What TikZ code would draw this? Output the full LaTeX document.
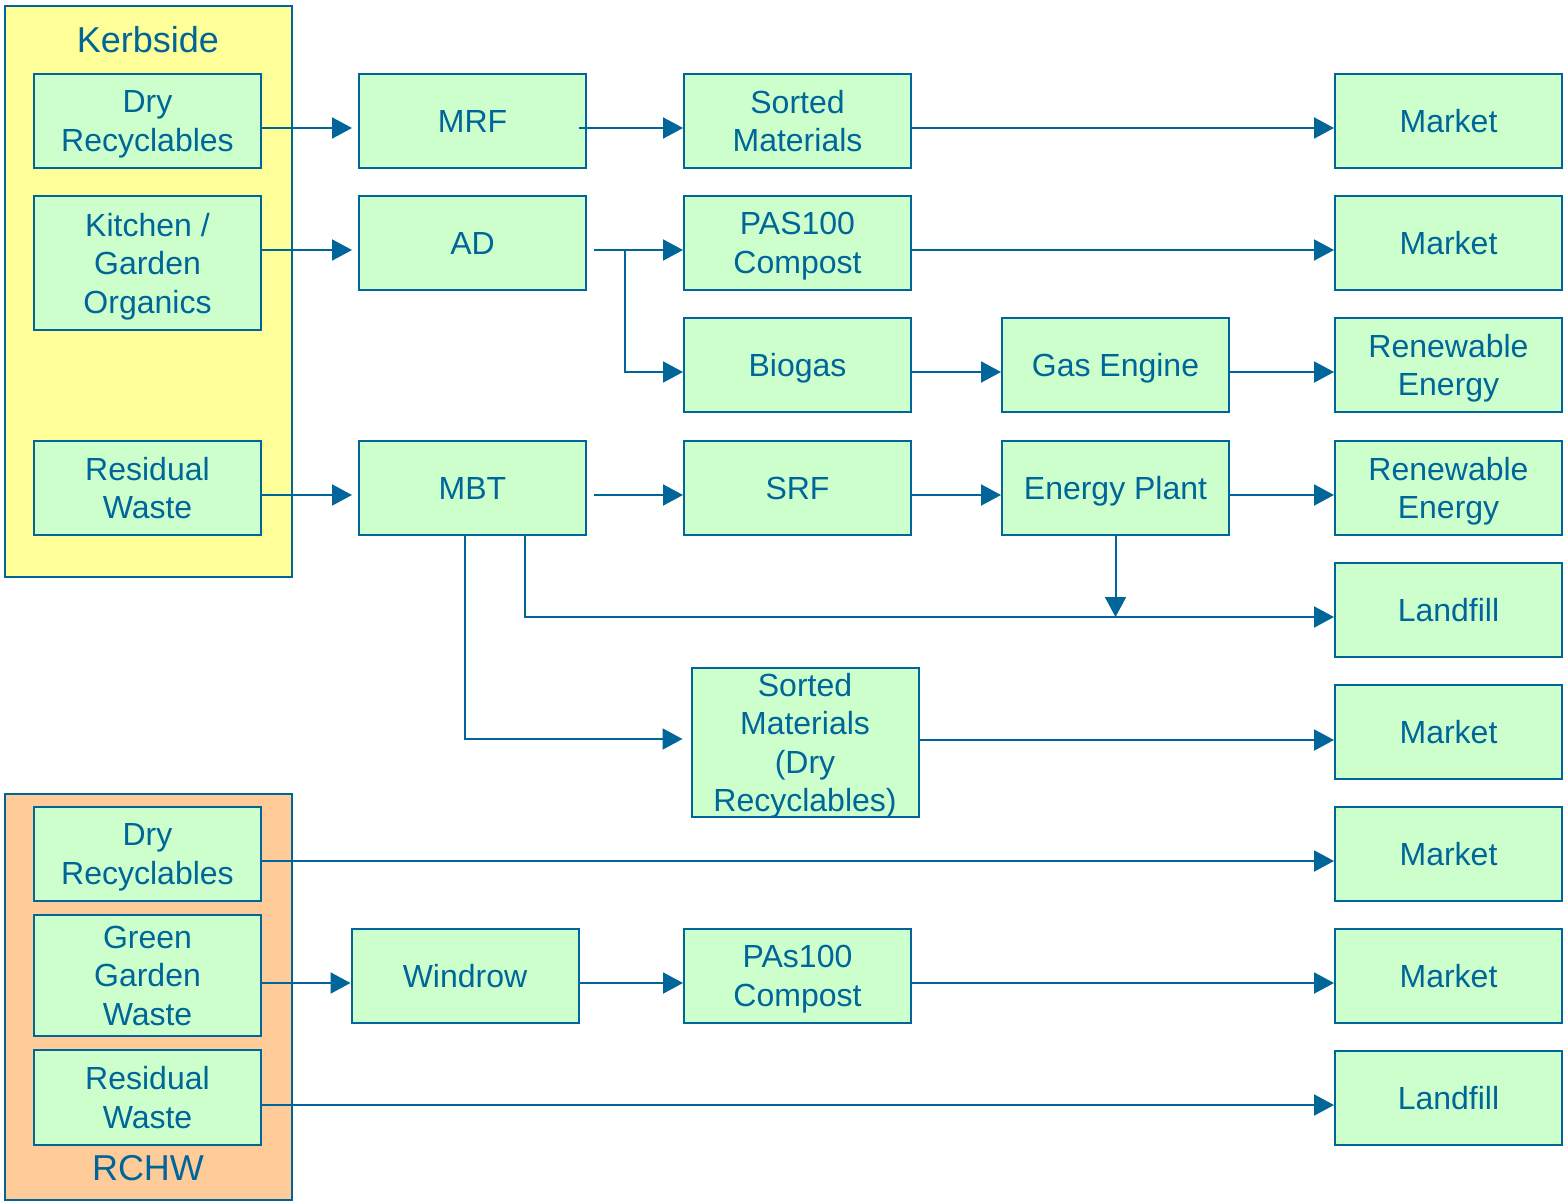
\documentclass[tikz,border=0pt]{standalone}
\usepackage{fontspec}
\setmainfont{Liberation Sans}
\usetikzlibrary{arrows.meta}
\definecolor{ink}{HTML}{006699}
\definecolor{boxfill}{HTML}{CCFFCC}
\definecolor{kerbfill}{HTML}{FFFF99}
\definecolor{rchwfill}{HTML}{FFCC99}

\begin{document}
\begin{tikzpicture}[x=1pt,y=-1pt,
  proc/.style={draw=ink, line width=2pt, fill=boxfill, text=ink,
    minimum width=227pt, minimum height=94pt, align=center, inner sep=0pt,
    text depth=-3pt, font=\fontsize{32}{38.5}\selectfont},
  group/.style={draw=ink, line width=2pt, anchor=north west, inner sep=0pt,
    minimum width=287pt},
  grouptitle/.style={text=ink, font=\fontsize{36}{40}\selectfont},
  flow/.style={draw=ink, line width=2pt, -{Triangle[length=20pt,width=21pt]}}]
\useasboundingbox (0,0) rectangle (1565,1201);

% collection groups
\node[group, fill=kerbfill, minimum height=571pt] (kerb) at (4,5) {};
\node[grouptitle] (kerbtitle) at (148,40) {Kerbside};
\node[group, fill=rchwfill, minimum height=406pt] (rchw) at (4,793) {};
\node[grouptitle] (rchwtitle) at (148,1168) {RCHW};

% kerbside streams
\node[proc] (kdry) at (147.5,121) {Dry\\Recyclables};
\node[proc, minimum height=134pt] (korg) at (147.5,263) {Kitchen /\\Garden\\Organics};
\node[proc] (kres) at (147.5,488) {Residual\\Waste};

% treatment
\node[proc] (mrf) at (472.5,121) {MRF};
\node[proc] (ad) at (472.5,243) {AD};
\node[proc] (mbt) at (472.5,488) {MBT};
\node[proc] (sorted) at (797.5,121) {Sorted\\Materials};
\node[proc] (pas) at (797.5,243) {PAS100\\Compost};
\node[proc] (biogas) at (797.5,365) {Biogas};
\node[proc] (srf) at (797.5,488) {SRF};
\node[proc] (engine) at (1115.5,365) {Gas Engine};
\node[proc] (eplant) at (1115.5,488) {Energy Plant};
\node[proc, minimum height=149pt] (sortdr) at (805,742.5) {Sorted\\Materials\\(Dry\\Recyclables)};

% outlets
\node[proc] (mkt1) at (1448.5,121) {Market};
\node[proc] (mkt2) at (1448.5,243) {Market};
\node[proc] (ren1) at (1448.5,365) {Renewable\\Energy};
\node[proc] (ren2) at (1448.5,488) {Renewable\\Energy};
\node[proc] (land1) at (1448.5,610) {Landfill};
\node[proc] (mkt3) at (1448.5,732) {Market};
\node[proc] (mkt4) at (1448.5,854) {Market};
\node[proc] (mkt5) at (1448.5,976) {Market};
\node[proc] (land2) at (1448.5,1098) {Landfill};

% RCHW streams
\node[proc] (rdry) at (147.5,854) {Dry\\Recyclables};
\node[proc, minimum height=121pt] (rgreen) at (147.5,975.5) {Green\\Garden\\Waste};
\node[proc, minimum height=95pt] (rres) at (147.5,1097.5) {Residual\\Waste};
\node[proc] (windrow) at (465,976) {Windrow};
\node[proc] (pas2) at (797.5,976) {PAs100\\Compost};

% flows
\draw[flow] ([yshift=-7pt]kdry.east) -- ([yshift=-7pt,xshift=-6pt]mrf.west);
\draw[flow] ([yshift=-7pt,xshift=-8pt]mrf.east) -- ([yshift=-7pt]sorted.west);
\draw[flow] ([yshift=-7pt]sorted.east) -- ([yshift=-7pt]mkt1.west);

\draw[flow] ([yshift=13pt]korg.east) -- ([yshift=-7pt,xshift=-6pt]ad.west);
\draw[flow] ([yshift=-7pt,xshift=7pt]ad.east) -- ([yshift=-7pt]pas.west);
\draw[flow] ([yshift=-7pt,xshift=38pt]ad.east) |- ([yshift=-7pt]biogas.west);
\draw[flow] ([yshift=-7pt]pas.east) -- ([yshift=-7pt]mkt2.west);
\draw[flow] ([yshift=-7pt]biogas.east) -- ([yshift=-7pt]engine.west);
\draw[flow] ([yshift=-7pt]engine.east) -- ([yshift=-7pt]ren1.west);

\draw[flow] ([yshift=-7pt]kres.east) -- ([yshift=-7pt,xshift=-6pt]mbt.west);
\draw[flow] ([yshift=-7pt,xshift=7pt]mbt.east) -- ([yshift=-7pt]srf.west);
\draw[flow] ([yshift=-7pt]srf.east) -- ([yshift=-7pt]eplant.west);
\draw[flow] ([yshift=-7pt]eplant.east) -- ([yshift=-7pt]ren2.west);

\coordinate (landin) at ([yshift=-7pt]land1.west);
\draw[flow] ([xshift=52.5pt]mbt.south) |- (landin);
\draw[flow] (eplant.south) -- (eplant.south |- landin);
\draw[flow] ([xshift=-7.5pt]mbt.south) |- ([xshift=-8pt,yshift=3.5pt]sortdr.west);
\draw[flow] ([yshift=2.5pt]sortdr.east) -- ([yshift=-8pt]mkt3.west);

\draw[flow] ([yshift=-7pt]rdry.east) -- ([yshift=-7pt]mkt4.west);
\draw[flow] ([yshift=-7.5pt]rgreen.east) -- ([yshift=-7pt]windrow.west);
\draw[flow] ([yshift=-7pt]windrow.east) -- ([yshift=-7pt]pas2.west);
\draw[flow] ([yshift=-7pt]pas2.east) -- ([yshift=-7pt]mkt5.west);
\draw[flow] ([yshift=-7.5pt]rres.east) -- ([yshift=-7pt]land2.west);
\end{tikzpicture}
\end{document}
